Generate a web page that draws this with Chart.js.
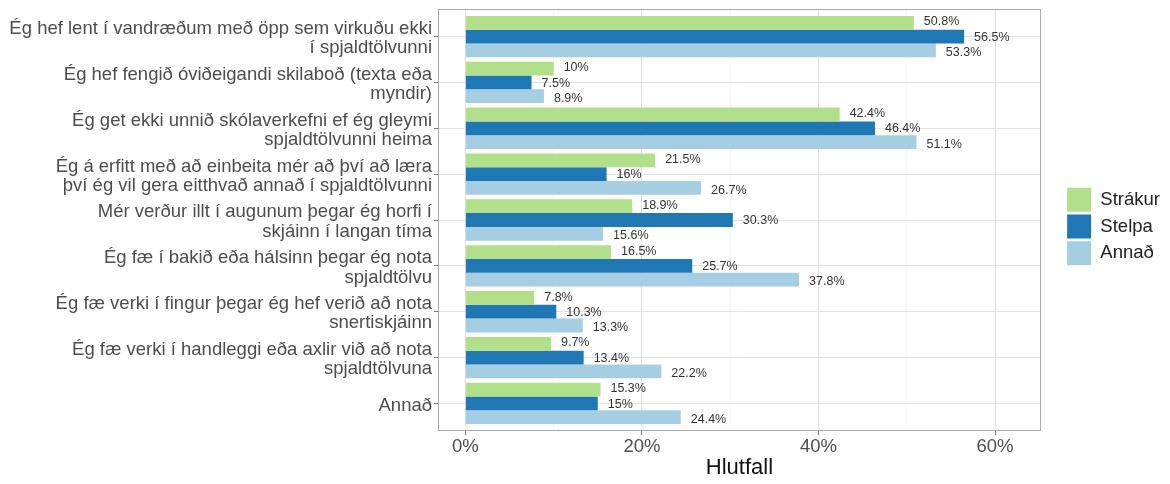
<!DOCTYPE html>
<html>
<head>
<meta charset="utf-8">
<script src="https://cdn.jsdelivr.net/npm/chart.js@4.4.0/dist/chart.umd.min.js"></script>
<style>
  html, body { margin: 0; padding: 0; background: #ffffff; }
  #wrap { width: 1170px; height: 484px; }
</style>
</head>
<body>
<div id="wrap"><canvas id="c" width="1170" height="484"></canvas></div>
<script>
// ---- data ----
const categories = [
  ["Ég hef lent í vandræðum með öpp sem virkuðu ekki", "í spjaldtölvunni"],
  ["Ég hef fengið óviðeigandi skilaboð (texta eða", "myndir)"],
  ["Ég get ekki unnið skólaverkefni ef ég gleymi", "spjaldtölvunni heima"],
  ["Ég á erfitt með að einbeita mér að því að læra", "því ég vil gera eitthvað annað í spjaldtölvunni"],
  ["Mér verður illt í augunum þegar ég horfi í", "skjáinn í langan tíma"],
  ["Ég fæ í bakið eða hálsinn þegar ég nota", "spjaldtölvu"],
  ["Ég fæ verki í fingur þegar ég hef verið að nota", "snertiskjáinn"],
  ["Ég fæ verki í handleggi eða axlir við að nota", "spjaldtölvuna"],
  "Annað"
];
const seriesNames = ["Strákur", "Stelpa", "Annað"];
const strakur = [50.8, 10, 42.4, 21.5, 18.9, 16.5, 7.8, 9.7, 15.3];
const stelpa  = [56.5, 7.5, 46.4, 16, 30.3, 25.7, 10.3, 13.4, 15];
const annad   = [53.3, 8.9, 51.1, 26.7, 15.6, 37.8, 13.3, 22.2, 24.4];
const xTickValues = [0, 20, 40, 60];
const xTickLabels = ["0%", "20%", "40%", "60%"];
const xMinorValues = [10, 30, 50];
const xTitle = "Hlutfall";

// ---- styling ----
const colors = ["#b2df8a", "#1f78b4", "#a6cee3"];
const FONT = '"Liberation Sans", Arial, sans-serif';
const positions = categories.map((c, i) => i + 1);

const seriesValues = [strakur, stelpa, annad];
const datasets = seriesValues.map((vals, s) => ({
  label: seriesNames[s],
  data: vals.map((v, i) => ({ x: v, y: positions[i] })),
  backgroundColor: colors[s],
  borderWidth: 0,
  categoryPercentage: 0.9,
  barPercentage: 1.0,
  xAxisID: 'x',
  yAxisID: 'y'
}));

const allX = xTickValues.concat(xMinorValues).sort((a, b) => a - b);

const labelPlugin = {
  id: 'barLabelsAndBorder',
  afterDatasetsDraw(chart) {
    const ctx = chart.ctx;
    const ys = chart.scales.y;
    const unit = Math.abs(ys.getPixelForValue(2) - ys.getPixelForValue(1));
    ctx.save();
    ctx.font = '12.5px ' + FONT;
    ctx.fillStyle = '#333333';
    ctx.textBaseline = 'middle';
    ctx.textAlign = 'left';
    chart.data.datasets.forEach((ds, di) => {
      const vals = seriesValues[di];
      chart.getDatasetMeta(di).data.forEach((bar, i) => {
        const cy = ys.getPixelForValue(positions[i]) + (di - 1) * unit / 3 + 0.7;
        ctx.fillText(vals[i] + '%', bar.x + 10, cy);
      });
    });
    const a = chart.chartArea;
    ctx.strokeStyle = '#a8a8a8';
    ctx.lineWidth = 1;
    ctx.strokeRect(Math.round(a.left) + 0.5, Math.round(a.top) + 0.5,
                   Math.round(a.right - a.left) - 1, Math.round(a.bottom - a.top) - 1);
    ctx.restore();
  }
};

new Chart(document.getElementById('c'), {
  type: 'bar',
  data: { datasets },
  plugins: [labelPlugin],
  options: {
    indexAxis: 'y',
    responsive: false,
    animation: false,
    devicePixelRatio: 1,
    events: [],
    layout: { padding: { top: 9, left: 0, right: 0, bottom: 0 } },
    plugins: {
      tooltip: { enabled: false },
      legend: {
        position: 'right',
        fullSize: false,
        title: { display: true, text: '', font: { size: 10, lineHeight: 1.3 }, padding: 0 },
        labels: {
          boxWidth: 24,
          boxHeight: 24,
          padding: 2.7,
          color: '#222222',
          font: { family: FONT, size: 18.5 }
        }
      }
    },
    scales: {
      x: {
        type: 'linear',
        position: 'bottom',
        min: -3.1,
        max: 65.2,
        offset: false,
        afterBuildTicks: s => { s.ticks = allX.map(v => ({ value: v })); },
        afterFit: s => { s.height = 53; s.paddingLeft = 0; s.paddingRight = 0; },
        border: { display: false },
        grid: {
          offset: false,
          color: c => xTickValues.includes(c.tick.value) ? '#dedede' : '#eeeeee',
          lineWidth: c => xTickValues.includes(c.tick.value) ? 1 : 0.6,
          tickColor: c => xTickValues.includes(c.tick.value) ? '#7a7a7a' : 'rgba(0,0,0,0)',
          tickLength: 4,
          tickWidth: 1
        },
        ticks: {
          autoSkip: false,
          maxRotation: 0,
          padding: 1,
          color: '#4d4d4d',
          font: { family: FONT, size: 18.5 },
          callback: v => {
            const k = xTickValues.indexOf(v);
            return k >= 0 ? xTickLabels[k] : '';
          }
        },
        title: {
          display: true,
          text: xTitle,
          color: '#111111',
          font: { family: FONT, size: 22 },
          padding: { top: 0, bottom: 3 }
        }
      },
      y: {
        type: 'linear',
        position: 'left',
        reverse: true,
        offset: false,
        min: 0.4,
        max: 9.6,
        afterBuildTicks: s => { s.ticks = positions.map(v => ({ value: v })); },
        afterFit: s => { s.width = 438; s.paddingTop = 0; s.paddingBottom = 0; },
        border: { display: false },
        grid: {
          offset: false,
          color: '#e2e2e2',
          lineWidth: 1,
          tickColor: '#7a7a7a',
          tickLength: 4
        },
        ticks: {
          autoSkip: false,
          padding: 2,
          labelOffset: 2,
          color: '#4d4d4d',
          font: { family: FONT, size: 18.5, lineHeight: 1.04 },
          callback: v => categories[v - 1]
        }
      },
      yPad: {
        type: 'linear',
        axis: 'y',
        position: 'right',
        display: true,
        border: { display: false },
        grid: { display: false, drawTicks: false },
        ticks: { display: false },
        afterFit: s => { s.width = 23.5; s.paddingTop = 0; s.paddingBottom = 0; }
      }
    }
  }
});
</script>
</body>
</html>
